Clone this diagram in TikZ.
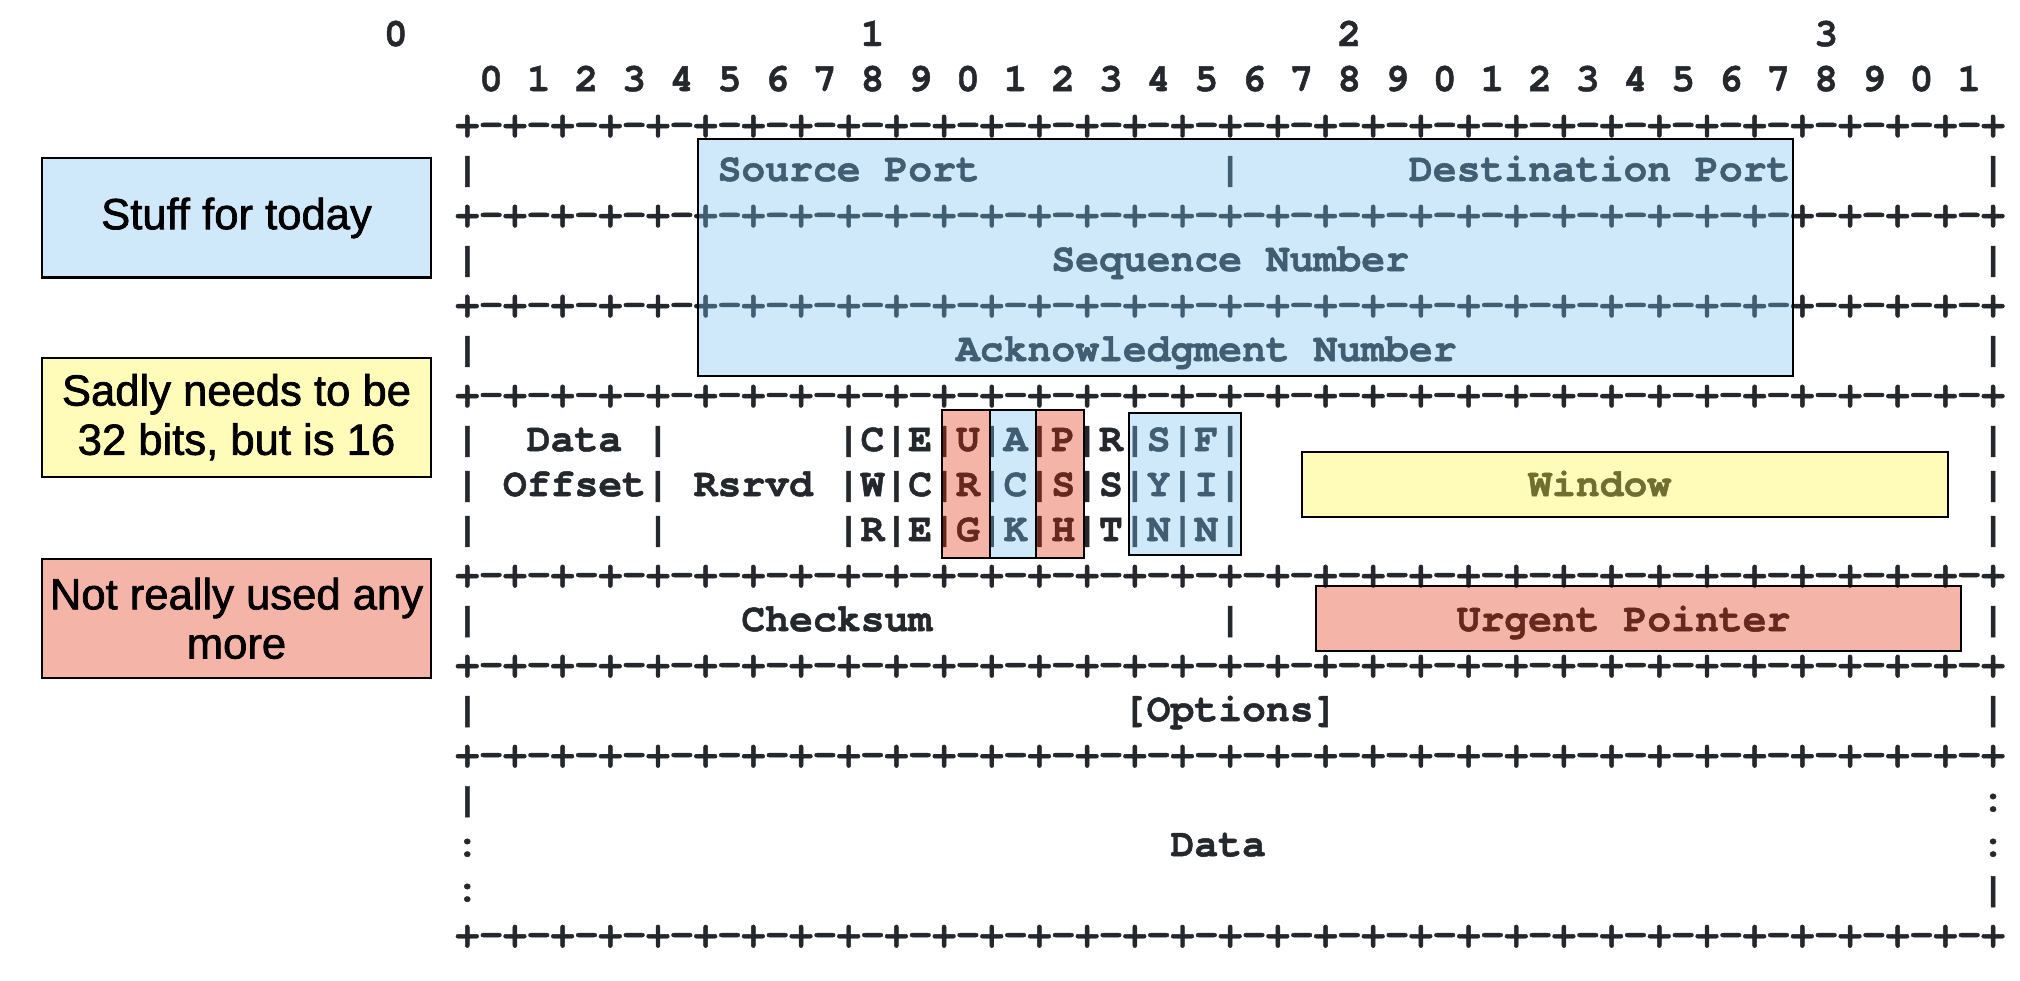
\documentclass[tikz,border=0pt]{standalone}
\usepackage{fontspec}
\usepackage{tikz}
\usetikzlibrary{positioning}
\setmainfont{Liberation Sans}[FakeBold=1.6]
\newfontfamily\cursorfont{texgyrecursor-bold.otf}[Ligatures=NoCommon, FakeBold=1.2]
\definecolor{pktblue}{RGB}{118,192,244}
\definecolor{pktred}{RGB}{226,41,6}
\definecolor{pktyellow}{RGB}{255,246,55}
\definecolor{asciigray}{RGB}{36,40,44}
\newlength\chw
\setlength\chw{6.78pt}
\newcommand\sk[1]{\hspace*{#1\chw}}
\newcommand\hborder{+\foreach\k in {1,...,32}{-+}}
\tikzstyle{ascii}  = [anchor=base west, inner sep=0pt, outer sep=0pt, text=asciigray, font=\cursorfont\fontsize{11.3}{12.8}\selectfont\frenchspacing]
\tikzstyle{legend} = [rectangle, draw=black, line width=0.6pt, minimum width=3.88cm, minimum height=1.19cm, inner sep=0pt, align=center, font=\fontsize{12.4}{14}\selectfont]
\tikzstyle{hilite} = [draw=black, line width=0.6pt, fill opacity=0.35]

\begin{document}
\begin{tikzpicture}[x=6.78pt, y=-12.8pt]
        \useasboundingbox (-19.60,-1.022) rectangle (65.13,20.756);

        % header as ascii art, one node per line
        \node (tens) [ascii] at (-3.5,0) {0\sk{19}1\sk{19}2\sk{19}3};
        \node (bits) [ascii] at (0.5,1) {0 1 2 3 4 5 6 7 8 9 0 1 2 3 4 5 6 7 8 9 0 1 2 3 4 5 6 7 8 9 0 1};
        \foreach \l in {2,4,6,8,12,14,16,20}
            \node (border\l) [ascii] at (-0.5,\l) {\hborder};
        \node (ports) [ascii] at (-0.5,3) {|\sk{10}Source Port\sk{10}|\sk{7}Destination Port\sk{8}|};
        \node (seq) [ascii] at (-0.5,5) {|\sk{24}Sequence Number\sk{24}|};
        \node (ack) [ascii] at (-0.5,7) {|\sk{20}Acknowledgment Number\sk{22}|};
        \node (flagsa) [ascii] at (-0.5,9) {|\sk{2}Data |\sk{7}|C|E|U|A|P|R|S|F|\sk{31}|};
        \node (flagsb) [ascii] at (-0.5,10) {| Offset| Rsrvd |W|C|R|C|S|S|Y|I|\sk{12}Window\sk{13}|};
        \node (flagsc) [ascii] at (-0.5,11) {|\sk{7}|\sk{7}|R|E|G|K|H|T|N|N|\sk{31}|};
        \node (csum) [ascii] at (-0.5,13) {|\sk{11}Checksum\sk{12}|\sk{9}Urgent Pointer\sk{8}|};
        \node (opts) [ascii] at (-0.5,15) {|\sk{27}[Options]\sk{27}|};
        \node (dataa) [ascii] at (-0.5,17) {|\sk{63}:};
        \node (datab) [ascii] at (-0.5,18) {:\sk{29}Data\sk{30}:};
        \node (datac) [ascii] at (-0.5,19) {:\sk{63}|};

        % tinted boxes over the fields
        \draw [hilite, fill=pktblue] (9.67,2.07) rectangle (55.62,7.33);
        \draw [hilite, fill=pktred] (19.93,8.09) rectangle (21.93,11.38);
        \draw [hilite, fill=pktblue] (21.93,8.09) rectangle (23.87,11.38);
        \draw [hilite, fill=pktred] (23.87,8.09) rectangle (25.88,11.38);
        \draw [hilite, fill=pktblue] (27.76,8.16) rectangle (32.44,11.30);
        \draw [hilite, fill=pktyellow] (35.03,9.03) rectangle (62.12,10.46);
        \draw [hilite, fill=pktred] (35.59,11.99) rectangle (62.65,13.44);

        % legend
        \node (today) [legend, fill=pktblue!35] at (-9.68,3.82) {Stuff for today};
        \node (sadly) [legend, fill=pktyellow!35, below=0.78cm of today] {Sadly needs to be\\32 bits, but is 16};
        \node (unused) [legend, fill=pktred!35, below=0.8cm of sadly] {Not really used any\\more};
    \end{tikzpicture}
\end{document}
